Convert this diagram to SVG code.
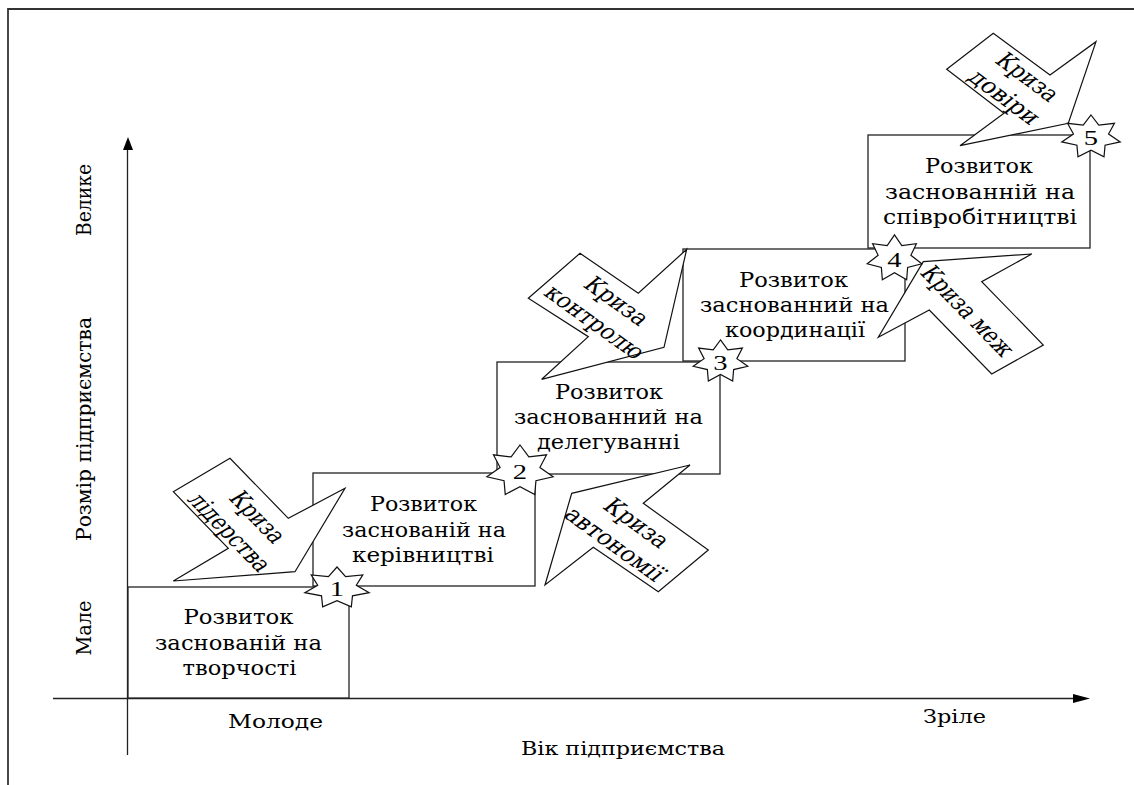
<svg xmlns="http://www.w3.org/2000/svg" width="1134" height="785" viewBox="0 0 1134 785">
<style>
.frame{fill:none;stroke:#333;stroke-width:1.8}
.box{fill:#fff;stroke:#222;stroke-width:1.3}
.arr{fill:#fff;stroke:#111;stroke-width:1.2;stroke-linejoin:miter}
.star{fill:#fff;stroke:#111;stroke-width:1.2}
.axis{fill:none;stroke:#222;stroke-width:1.3}
.head{fill:#000}
.t{font-family:"DejaVu Serif","Liberation Serif",serif;font-size:20px;fill:#000;text-anchor:middle}
.ax{font-size:18px}
.cr{font-size:21px}
.num{font-family:"Liberation Serif","DejaVu Serif",serif;font-size:22px}
</style>
<rect width="1134" height="785" fill="#fff"/>
<path class="frame" d="M8 785 V9 H1134"/>

<g id="connectors">
  <line class="axis" x1="127.5" y1="755" x2="127.5" y2="148"/>
  <polygon class="head" points="128,137 123,150 133,150"/>
  <line class="axis" x1="53" y1="698.5" x2="1076" y2="698.5"/>
  <polygon class="head" points="1090,698.5 1073,694 1073,703"/>
</g>

<g id="axis-labels">
  <text class="t ax" x="275.5" y="728" textLength="95" lengthAdjust="spacingAndGlyphs">Молоде</text>
  <text class="t ax" x="954.5" y="723" textLength="63" lengthAdjust="spacingAndGlyphs">Зріле</text>
  <text class="t ax" x="623" y="755" textLength="204" lengthAdjust="spacingAndGlyphs">Вік підприємства</text>
  <text class="t ax" transform="translate(91,200) scale(1.15,1) rotate(-90)" textLength="72" lengthAdjust="spacingAndGlyphs">Велике</text>
  <text class="t ax" transform="translate(91,429) scale(1.15,1) rotate(-90)" textLength="224" lengthAdjust="spacingAndGlyphs">Розмір підприємства</text>
  <text class="t ax" transform="translate(91,628) scale(1.15,1) rotate(-90)" textLength="55" lengthAdjust="spacingAndGlyphs">Мале</text>
</g>

<g id="box1">
  <rect class="box" x="128" y="587" width="221" height="111"/>
  <text class="t" x="238.5" y="624" textLength="110" lengthAdjust="spacingAndGlyphs">Розвиток</text>
  <text class="t" x="238.5" y="650" textLength="167" lengthAdjust="spacingAndGlyphs">заснованій на</text>
  <text class="t" x="239.5" y="675" textLength="114" lengthAdjust="spacingAndGlyphs">творчості</text>
</g>
<g id="box2">
  <rect class="box" x="313" y="473" width="222" height="113"/>
  <text class="t" x="423.5" y="511" textLength="107" lengthAdjust="spacingAndGlyphs">Розвиток</text>
  <text class="t" x="424" y="537" textLength="164" lengthAdjust="spacingAndGlyphs">заснованій на</text>
  <text class="t" x="423" y="562" textLength="142" lengthAdjust="spacingAndGlyphs">керівництві</text>
</g>
<g id="box3">
  <rect class="box" x="497" y="362" width="223" height="112"/>
  <text class="t" x="609" y="399" textLength="108" lengthAdjust="spacingAndGlyphs">Розвиток</text>
  <text class="t" x="608.5" y="424" textLength="189" lengthAdjust="spacingAndGlyphs">заснованний на</text>
  <text class="t" x="608.5" y="449" textLength="143" lengthAdjust="spacingAndGlyphs">делегуванні</text>
</g>
<g id="box4">
  <rect class="box" x="683" y="249" width="222" height="112"/>
  <text class="t" x="793.5" y="287" textLength="109" lengthAdjust="spacingAndGlyphs">Розвиток</text>
  <text class="t" x="794.5" y="312" textLength="189" lengthAdjust="spacingAndGlyphs">заснованний на</text>
  <text class="t" x="795" y="337" textLength="140" lengthAdjust="spacingAndGlyphs">координації</text>
</g>
<g id="box5">
  <rect class="box" x="868" y="135" width="222" height="113"/>
  <text class="t" x="979" y="173" textLength="108" lengthAdjust="spacingAndGlyphs">Розвиток</text>
  <text class="t" x="980" y="199" textLength="190" lengthAdjust="spacingAndGlyphs">заснованній на</text>
  <text class="t" x="980" y="224" textLength="194" lengthAdjust="spacingAndGlyphs">співробітництві</text>
</g>

<g id="crisis-leadership">
  <polygon class="arr" points="173.3,491.7 230,458.3 288.3,518.3 345,488.3 295,571.7 173.3,581 228.3,548.3"/>
  <text class="t cr" transform="translate(258,517) scale(1.3,1) rotate(53)" dy="0.35em" textLength="58" lengthAdjust="spacingAndGlyphs">Криза</text>
  <text class="t cr" transform="translate(230,532) scale(1.3,1) rotate(53)" dy="0.35em" textLength="92" lengthAdjust="spacingAndGlyphs">лідерства</text>
</g>
<g id="crisis-control">
  <polygon class="arr" points="528.3,298.3 580,253.3 638.3,293.3 686.7,249.3 664,347.3 541.7,379.3 588.3,336.7"/>
  <text class="t cr" transform="translate(617,301) scale(1.3,1) rotate(43)" dy="0.35em" textLength="60" lengthAdjust="spacingAndGlyphs">Криза</text>
  <text class="t cr" transform="translate(595,322) scale(1.3,1) rotate(43)" dy="0.35em" textLength="97" lengthAdjust="spacingAndGlyphs">контролю</text>
</g>
<g id="crisis-autonomy">
  <polygon class="arr" points="708.3,550 658.3,591.7 593.3,547.3 545,585 571.7,493.3 690,465 643.3,503.3"/>
  <text class="t cr" transform="translate(637,523) scale(1.3,1) rotate(43)" dy="0.35em" textLength="61" lengthAdjust="spacingAndGlyphs">Криза</text>
  <text class="t cr" transform="translate(615,544) scale(1.3,1) rotate(43)" dy="0.35em" textLength="97" lengthAdjust="spacingAndGlyphs">автономії</text>
</g>
<g id="crisis-limits">
  <polygon class="arr" points="923.3,261.7 1031.7,254 981.7,281.7 1043.3,345 991.7,374 929.3,310 878.3,337.3"/>
  <text class="t cr" transform="translate(968,311) scale(1.3,1) rotate(53)" dy="0.35em" textLength="106" lengthAdjust="spacingAndGlyphs">Криза меж</text>
</g>
<g id="crisis-trust">
  <polygon class="arr" points="946.7,69.3 993.3,33.3 1050,75 1096,41.7 1068.3,123.3 960,145.7 1004,113.3"/>
  <text class="t cr" transform="translate(1028,77) scale(1.3,1) rotate(44)" dy="0.35em" textLength="59" lengthAdjust="spacingAndGlyphs">Криза</text>
  <text class="t cr" transform="translate(1005,97) scale(1.3,1) rotate(44)" dy="0.35em" textLength="68" lengthAdjust="spacingAndGlyphs">довіри</text>
</g>

<g id="star1">
  <polygon class="star" vector-effect="non-scaling-stroke" transform="translate(337,588) scale(33,21)" points="0,-1 0.2603,-0.5406 0.7818,-0.6235 0.5849,-0.1335 0.9749,0.2225 0.4691,0.3741 0.4339,0.9010 0,0.6 -0.4339,0.9010 -0.4691,0.3741 -0.9749,0.2225 -0.5849,-0.1335 -0.7818,-0.6235 -0.2603,-0.5406"/>
  <text class="t num" transform="translate(337,596) scale(1.3,1)">1</text>
</g>
<g id="star2">
  <polygon class="star" vector-effect="non-scaling-stroke" transform="translate(520,471) scale(34,26)" points="0,-1 0.2603,-0.5406 0.7818,-0.6235 0.5849,-0.1335 0.9749,0.2225 0.4691,0.3741 0.4339,0.9010 0,0.6 -0.4339,0.9010 -0.4691,0.3741 -0.9749,0.2225 -0.5849,-0.1335 -0.7818,-0.6235 -0.2603,-0.5406"/>
  <text class="t num" transform="translate(520,479) scale(1.3,1)">2</text>
</g>
<g id="star3">
  <polygon class="star" vector-effect="non-scaling-stroke" transform="translate(720.5,361.5) scale(28,21.6)" points="0,-1 0.2603,-0.5406 0.7818,-0.6235 0.5849,-0.1335 0.9749,0.2225 0.4691,0.3741 0.4339,0.9010 0,0.6 -0.4339,0.9010 -0.4691,0.3741 -0.9749,0.2225 -0.5849,-0.1335 -0.7818,-0.6235 -0.2603,-0.5406"/>
  <text class="t num" transform="translate(720.5,369.5) scale(1.3,1)">3</text>
</g>
<g id="star4">
  <polygon class="star" vector-effect="non-scaling-stroke" transform="translate(894.5,258.5) scale(28,23.7)" points="0,-1 0.2603,-0.5406 0.7818,-0.6235 0.5849,-0.1335 0.9749,0.2225 0.4691,0.3741 0.4339,0.9010 0,0.6 -0.4339,0.9010 -0.4691,0.3741 -0.9749,0.2225 -0.5849,-0.1335 -0.7818,-0.6235 -0.2603,-0.5406"/>
  <text class="t num" transform="translate(894.5,266.5) scale(1.3,1)">4</text>
</g>
<g id="star5">
  <polygon class="star" vector-effect="non-scaling-stroke" transform="translate(1091,137) scale(30,22)" points="0,-1 0.2603,-0.5406 0.7818,-0.6235 0.5849,-0.1335 0.9749,0.2225 0.4691,0.3741 0.4339,0.9010 0,0.6 -0.4339,0.9010 -0.4691,0.3741 -0.9749,0.2225 -0.5849,-0.1335 -0.7818,-0.6235 -0.2603,-0.5406"/>
  <text class="t num" transform="translate(1091,145) scale(1.3,1)">5</text>
</g>
</svg>
